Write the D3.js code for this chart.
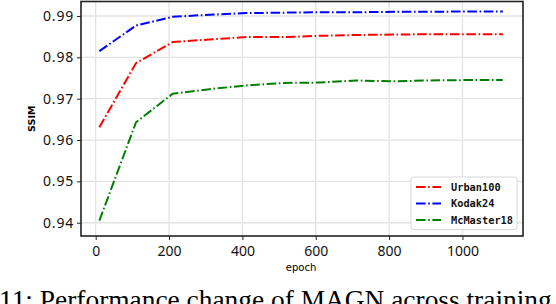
<!DOCTYPE html>
<html>
<head>
<meta charset="utf-8">
<script src="https://cdn.jsdelivr.net/npm/d3@7"></script>
<style>
  body { margin: 0; background: #fff; }
  svg { display: block; }
</style>
</head>
<body>
<div id="chart"></div>
<script>
// values
var epochs = [10, 110, 210, 310, 410, 510, 610, 710, 810, 910, 1010, 1110];
var urban100 = [0.9631, 0.9786, 0.9837, 0.9843, 0.9849, 0.9849, 0.9852, 0.9854, 0.9855, 0.9856, 0.9856, 0.9856];
var kodak24 = [0.9815, 0.9877, 0.9898, 0.9903, 0.9907, 0.9908, 0.9909, 0.9909, 0.9910, 0.9910, 0.9911, 0.9911];
var mcmaster18 = [0.9405, 0.9643, 0.9712, 0.9723, 0.9732, 0.9738, 0.9739, 0.9744, 0.9742, 0.9744, 0.9745, 0.9745];
var seriesNames = ["Urban100", "Kodak24", "McMaster18"];
var seriesColors = ["#ff0000", "#0000ff", "#008000"];
var xTicks = [0, 200, 400, 600, 800, 1000];
var yTicks = [0.94, 0.95, 0.96, 0.97, 0.98, 0.99];

var W = 556, H = 304;
var margin = { top: 1.5, right: 33, bottom: 68, left: 81 },
    width = W - margin.left - margin.right,
    height = H - margin.top - margin.bottom;

var svg = d3.select("#chart").append("svg")
    .attr("width", W)
    .attr("height", H);

var g = svg.append("g")
    .attr("transform", "translate(" + margin.left + "," + margin.top + ")");

var x = d3.scaleLinear().domain([-40, 1165]).range([0, width]);
var y = d3.scaleLinear().domain([0.9368, 0.9935]).range([height, 0]);

// grid
g.append("g")
    .selectAll("line.gx")
    .data(xTicks).enter().append("line")
    .attr("x1", function (d) { return x(d); })
    .attr("x2", function (d) { return x(d); })
    .attr("y1", 0).attr("y2", height)
    .attr("stroke", "#e3e3e3").attr("stroke-width", 1.3);
g.append("g")
    .selectAll("line.gy")
    .data(yTicks).enter().append("line")
    .attr("y1", function (d) { return y(d); })
    .attr("y2", function (d) { return y(d); })
    .attr("x1", 0).attr("x2", width)
    .attr("stroke", "#e3e3e3").attr("stroke-width", 1.3);

// lines
var allSeries = [urban100, kodak24, mcmaster18];
var line = d3.line()
    .x(function (d, i) { return x(epochs[i]); })
    .y(function (d) { return y(d); });

allSeries.forEach(function (s, k) {
    g.append("path")
        .datum(s)
        .attr("fill", "none")
        .attr("stroke", seriesColors[k])
        .attr("stroke-width", 2)
        .attr("stroke-dasharray", "9.6,2.6,1.6,2.6")
        .attr("d", line);
});

// axes
var xAxis = g.append("g")
    .attr("transform", "translate(0," + height + ")")
    .call(d3.axisBottom(x).tickValues(xTicks).tickSize(4).tickFormat(d3.format("d")));
var yAxis = g.append("g")
    .call(d3.axisLeft(y).tickValues(yTicks).tickSize(4).tickFormat(d3.format(".2f")));

[xAxis, yAxis].forEach(function (a) {
    a.select(".domain").remove();
    a.selectAll(".tick line").attr("stroke", "#222").attr("stroke-width", 1);
    a.selectAll(".tick text")
        .attr("font-family", "Noto Sans, sans-serif")
        .attr("font-size", "14px")
        .attr("fill", "#111");
});
xAxis.selectAll(".tick text").attr("dy", "0.95em");
yAxis.selectAll(".tick text").attr("letter-spacing", "0.8px").attr("x", -7);

// frame
g.append("rect")
    .attr("x", 0).attr("y", 0)
    .attr("width", width).attr("height", height)
    .attr("fill", "none")
    .attr("stroke", "#222")
    .attr("stroke-width", 1.6);

// axis labels
svg.append("text")
    .attr("transform", "translate(35," + (margin.top + height / 2) + ") rotate(-90)")
    .attr("text-anchor", "middle")
    .attr("font-family", "DejaVu Sans, sans-serif")
    .attr("font-size", "9.5px")
    .attr("font-weight", "700")
    .text("SSIM");
svg.append("text")
    .attr("x", 301)
    .attr("y", 271)
    .attr("text-anchor", "middle")
    .attr("font-family", "DejaVu Sans, sans-serif")
    .attr("font-size", "10px")
    .text("epoch");

// legend
var lg = svg.append("g").attr("transform", "translate(411,177)");
lg.append("rect")
    .attr("width", 106).attr("height", 52.5)
    .attr("rx", 2.5)
    .attr("fill", "#fff")
    .attr("stroke", "#d6d6d6");
seriesNames.forEach(function (name, k) {
    var yy = 10 + k * 16.5;
    lg.append("line")
        .attr("x1", 5).attr("x2", 30)
        .attr("y1", yy).attr("y2", yy)
        .attr("stroke", seriesColors[k])
        .attr("stroke-width", 2)
        .attr("stroke-dasharray", "9.6,2.6,1.6,2.6");
    lg.append("text")
        .attr("x", 40).attr("y", yy)
        .attr("dy", "0.35em")
        .attr("font-family", "DejaVu Sans Mono, monospace")
        .attr("font-size", "10.3px")
        .attr("font-weight", "600")
        .attr("fill", "#111")
        .text(name);
});

// caption (cut by the image edge, as in the source)
svg.append("text")
    .attr("x", -1)
    .attr("y", 309)
    .attr("font-family", "Liberation Serif, Times New Roman, serif")
    .attr("font-size", "27.4px")
    .attr("fill", "#000")
    .text("11: Performance change of MAGN across training");
</script>
</body>
</html>
